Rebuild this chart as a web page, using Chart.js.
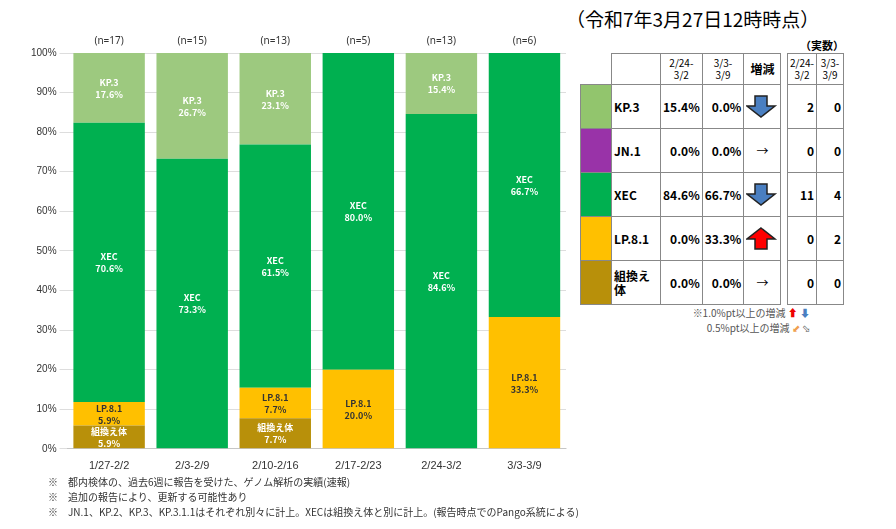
<!DOCTYPE html>
<html><head><meta charset="utf-8">
<script src="https://cdn.jsdelivr.net/npm/chart.js@4"></script>
<style>
body{margin:0;width:896px;height:529px;background:#fff;font-family:"Noto Sans CJK JP","Noto Sans",sans-serif;position:relative;overflow:hidden}
#wrap{position:absolute;left:0;top:30px;width:572px;height:446px}
#title{position:absolute;left:566px;top:5px;font-size:19px}
table{position:absolute;border-collapse:collapse;font-size:12px;font-weight:bold}
td{border:1px solid #888;padding:0 2px;height:43px}
.hd td{height:30px;font-size:10px;font-weight:normal;text-align:center;line-height:12px}
.num{text-align:right}
#notes{position:absolute;left:48px;top:474px;font-size:10px;line-height:15px;color:#333}
#legend{position:absolute;left:640px;top:305px;font-size:10px;color:#555;line-height:15px;text-align:right;width:170px}
</style></head><body>
<div id="title">（令和7年3月27日12時時点）</div>
<div id="wrap"><canvas id="c"></canvas></div>
<table style="left:580px;top:53px">
<tr class="hd"><td style="border:none;border-right:1px solid #888"></td><td style="width:44px"></td><td style="width:36px">2/24-<br>3/2</td><td style="width:32px">3/3-<br>3/9</td><td style="width:32px;font-size:12px;font-weight:bold">増減</td></tr>
<tr><td style="background:#92c56d;width:26px"></td><td>KP.3</td><td class="num">15.4%</td><td class="num">0.0%</td><td id="a0"></td></tr>
<tr><td style="background:#9933a8"></td><td>JN.1</td><td class="num">0.0%</td><td class="num">0.0%</td><td style="text-align:center;font-weight:normal">→</td></tr>
<tr><td style="background:#00b050"></td><td>XEC</td><td class="num">84.6%</td><td class="num">66.7%</td><td id="a1"></td></tr>
<tr><td style="background:#ffc000"></td><td>LP.8.1</td><td class="num">0.0%</td><td class="num">33.3%</td><td id="a2"></td></tr>
<tr><td style="background:#b8900a"></td><td style="line-height:14px">組換え<br>体</td><td class="num">0.0%</td><td class="num">0.0%</td><td style="text-align:center;font-weight:normal">→</td></tr>
</table>
<div style="position:absolute;left:800px;top:37px;font-size:11px;font-weight:bold">（実数）</div>
<table style="left:787px;top:53px">
<tr class="hd"><td style="width:24px">2/24-<br>3/2</td><td style="width:22px">3/3-<br>3/9</td></tr>
<tr><td class="num">2</td><td class="num">0</td></tr>
<tr><td class="num">0</td><td class="num">0</td></tr>
<tr><td class="num">11</td><td class="num">4</td></tr>
<tr><td class="num">0</td><td class="num">2</td></tr>
<tr><td class="num">0</td><td class="num">0</td></tr>
</table>
<div id="legend">※1.0%pt以上の増減 <span style="color:#e00">⬆</span> <span style="color:#4a7fc1">⬇</span><br>0.5%pt以上の増減 <span style="color:#f0a050">⬋</span> <span>⬂</span></div>
<div id="notes">※　都内検体の、過去6週に報告を受けた、ゲノム解析の実績(速報)<br>※　追加の報告により、更新する可能性あり<br>※　JN.1、KP.2、KP.3、KP.3.1.1はそれぞれ別々に計上。XECは組換え体と別に計上。(報告時点でのPango系統による)</div>
<script>
// 週ごとの割合(%)
const weeks = ["1/27-2/2","2/3-2/9","2/10-2/16","2/17-2/23","2/24-3/2","3/3-3/9"];
const counts = [17,15,13,5,13,6];
const recombinant = [5.9,0,7.7,0,0,0];
const lp81 = [5.9,0,7.7,20.0,0,33.3];
const xec = [70.6,73.3,61.5,80.0,84.6,66.7];
const kp3 = [17.6,26.7,23.1,0,15.4,0];
const yTicks = [0,10,20,30,40,50,60,70,80,90,100];

// 矢印(増減)
function arrow(id, up, color){
  const p = up ? "M15 1 L29 12 L21 12 L21 22 L9 22 L9 12 L1 12 Z" : "M9 1 L21 1 L21 11 L29 11 L15 22 L1 11 L9 11 Z";
  document.getElementById(id).innerHTML = '<svg width="32" height="24" style="display:block;margin:auto"><path d="'+p+'" fill="'+color+'" stroke="#222" stroke-width="1.5"/></svg>';
}
arrow("a0", false, "#4a7fc1");
arrow("a1", false, "#4a7fc1");
arrow("a2", true, "#ff0000");

const labelPlugin = {
  id: "labels",
  afterDatasetsDraw(chart){
    const ctx = chart.ctx;
    ctx.save();
    ctx.textAlign = "center";
    chart.data.datasets.forEach((ds, i) => {
      chart.getDatasetMeta(i).data.forEach((bar, j) => {
        const v = ds.data[j];
        if (!v) return;
        const y = (bar.y + bar.base) / 2;
        ctx.fillStyle = i == 1 ? "#333" : "#fff";
        ctx.font = "bold 9px 'Noto Sans CJK JP'";
        ctx.fillText(ds.label, bar.x, y - 2);
        ctx.fillText(v.toFixed(1) + "%", bar.x, y + 10);
      });
    });
    ctx.fillStyle = "#333";
    ctx.font = "10px 'Noto Sans'";
    const meta = chart.getDatasetMeta(0);
    meta.data.forEach((bar, j) => {
      ctx.fillText("(n=" + counts[j] + ")", bar.x, chart.chartArea.top - 9);
    });
    ctx.restore();
  }
};

new Chart(document.getElementById("c"), {
  type: "bar",
  data: {
    labels: weeks,
    datasets: [
      {label: "組換え体", data: recombinant, backgroundColor: "#b8900a"},
      {label: "LP.8.1", data: lp81, backgroundColor: "#ffc000"},
      {label: "XEC", data: xec, backgroundColor: "#00b050"},
      {label: "KP.3", data: kp3, backgroundColor: "#9dc97f"}
    ]
  },
  options: {
    responsive: true, maintainAspectRatio: false, animation: false,
    layout: {padding: {top: 23, right: 6, left: 28}},
    datasets: {bar: {barPercentage: 0.86, categoryPercentage: 1}},
    plugins: {legend: {display: false}, tooltip: {enabled: false}},
    scales: {
      x: {stacked: true, grid: {display: false}, ticks: {color: "#333", font: {size: 11}}},
      y: {stacked: true, min: 0, max: 100, afterBuildTicks: s => { s.ticks = yTicks.map(v => ({value: v})); },
          grid: {color: "#ddd"}, border: {display: false},
          ticks: {color: "#333", font: {size: 10}, callback: v => v + "%"}}
    }
  },
  plugins: [labelPlugin]
});
</script>
</body></html>
